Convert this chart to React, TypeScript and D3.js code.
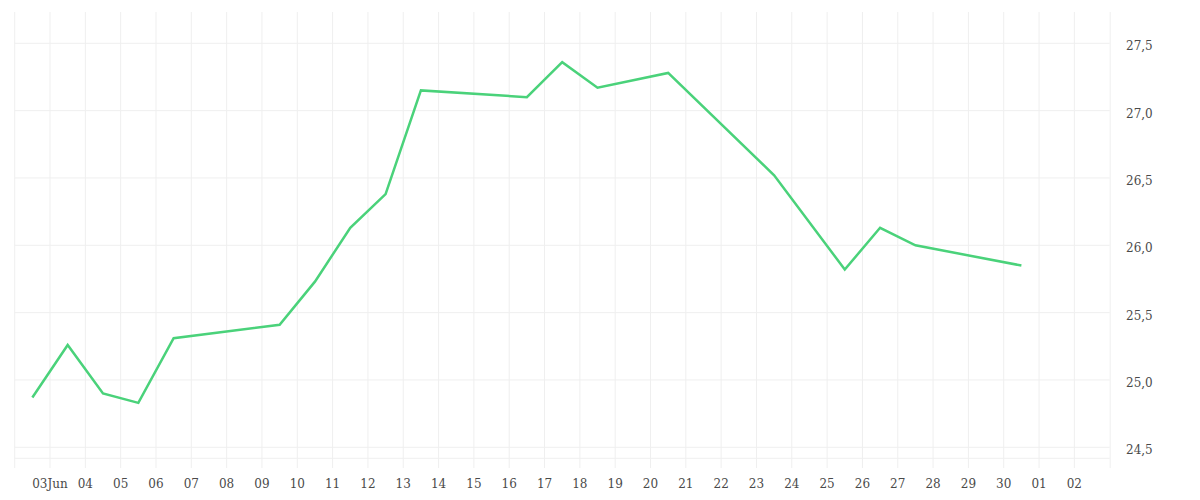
import React from "react";
import * as d3 from "d3";

// Data: timestamps (UTC) and values
const dates: string[] = [
  "2024-06-02T12:00:00Z", "2024-06-03T12:00:00Z", "2024-06-04T12:00:00Z", "2024-06-05T12:00:00Z",
  "2024-06-06T12:00:00Z", "2024-06-09T12:00:00Z", "2024-06-10T12:00:00Z", "2024-06-11T12:00:00Z",
  "2024-06-12T12:00:00Z", "2024-06-13T12:00:00Z", "2024-06-16T12:00:00Z", "2024-06-17T12:00:00Z",
  "2024-06-18T12:00:00Z", "2024-06-20T12:00:00Z", "2024-06-23T12:00:00Z", "2024-06-25T12:00:00Z",
  "2024-06-26T12:00:00Z", "2024-06-27T12:00:00Z", "2024-06-30T12:00:00Z",
];
const values: number[] = [
  24.87, 25.26, 24.90, 24.83, 25.31, 25.41, 25.73, 26.13, 26.38, 27.15,
  27.10, 27.36, 27.17, 27.28, 26.52, 25.82, 26.13, 26.00, 25.85,
];
const yTicks: number[] = [24.5, 25.0, 25.5, 26.0, 26.5, 27.0, 27.5];
const xDomain: string[] = ["2024-06-02T00:00:00Z", "2024-07-03T00:00:00Z"];

const W = 1200;
const H = 500;
const left = 14.7;
const right = 1109.7;
const top = 12;
const bottom = 468;

export default function App() {
  const x = d3
    .scaleUtc()
    .domain(xDomain.map((d) => new Date(d)))
    .range([left, right]);
  const y = d3.scaleLinear().domain([24.5, 27.5]).range([447.3, 43.3]);

  const pts = dates.map((d, i) => ({ t: new Date(d), v: values[i] }));
  const line = d3
    .line<{ t: Date; v: number }>()
    .x((d) => x(d.t))
    .y((d) => y(d.v));

  const days = d3.utcDay.range(new Date(xDomain[0]), new Date(xDomain[1]));
  const labelDays = days.slice(1);
  const fmtFirst = d3.utcFormat("%d%b");
  const fmt = d3.utcFormat("%d");
  const yFmt = (v: number) => v.toFixed(1).replace(".", ",");

  const grid = "#efefef";
  const font = "'DejaVu Serif', serif";
  const textColor = "#4a4a4a";

  return (
    <svg
      width={W}
      height={H}
      style={{ position: "absolute", left: 0, top: 0, background: "#fff" }}
    >
      {days.map((d, i) => (
        <line key={"vx" + i} x1={x(d)} x2={x(d)} y1={top} y2={bottom} stroke={grid} strokeWidth={1} />
      ))}
      {yTicks.map((v) => (
        <line key={"hy" + v} x1={left} x2={right} y1={y(v)} y2={y(v)} stroke={grid} strokeWidth={1} />
      ))}
      <line x1={left} x2={right} y1={458.3} y2={458.3} stroke={grid} strokeWidth={1} />
      <line x1={right + 0.5} x2={right + 0.5} y1={top} y2={bottom} stroke={grid} strokeWidth={1} />

      <path d={line(pts) || ""} fill="none" stroke="#4ad27a" strokeWidth={2.5} strokeLinejoin="miter" />

      {yTicks.map((v) => (
        <text key={"yl" + v} x={1126} y={y(v) + 7} fontFamily={font} fontSize={12} fill={textColor}>
          {yFmt(v)}
        </text>
      ))}
      {labelDays.map((d, i) => (
        <text key={"xl" + i} x={x(d)} y={487.5} textAnchor="middle" fontFamily={font} fontSize={12} fill={textColor}>
          {i === 0 ? fmtFirst(d) : fmt(d)}
        </text>
      ))}
    </svg>
  );
}
